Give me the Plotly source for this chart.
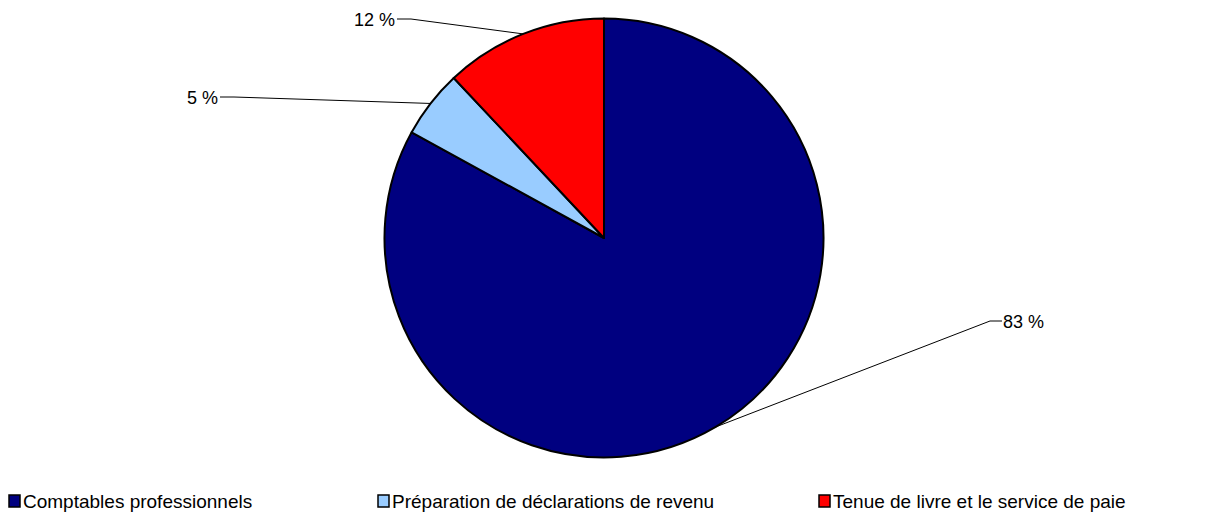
import math
import plotly.graph_objects as go

categories = ["Comptables professionnels",
              "Préparation de déclarations de revenu",
              "Tenue de livre et le service de paie"]
values = [83, 5, 12]
colors = ["#000080", "#99CCFF", "#FF0000"]

W, H = 1209, 514
cx, cy, r = 604, 238, 219.5

# where each outside label sits (pixels): elbow point of leader line, label side
label_pos = [(990, 321, "left"), (234, 97, "right"), (411, 19, "right")]
legend_x = [9, 378, 819]
legend_y = 501


def px(x):
    return x / W


def py(y):
    return 1 - y / H


fig = go.Figure(go.Pie(
    labels=categories, values=values, sort=False, direction="clockwise",
    rotation=0, textinfo="none", showlegend=False,
    marker=dict(colors=colors, line=dict(color="black", width=2)),
    domain=dict(x=[px(cx - r), px(cx + r)], y=[py(cy + r), py(cy - r)]),
))

shapes = []
annotations = []
total = sum(values)
cum = 0
for v, (ex, ey, side) in zip(values, label_pos):
    mid = (cum + v / 2) / total * 2 * math.pi
    cum += v
    sx = cx + r * math.sin(mid)
    sy = cy - r * math.cos(mid)
    hx = ex + 12 if side == "left" else ex - 14
    shapes.append(dict(type="line", xref="paper", yref="paper",
                       x0=px(sx), y0=py(sy), x1=px(ex), y1=py(ey),
                       line=dict(color="black", width=1)))
    shapes.append(dict(type="line", xref="paper", yref="paper",
                       x0=px(ex), y0=py(ey), x1=px(hx), y1=py(ey),
                       line=dict(color="black", width=1)))
    annotations.append(dict(x=px(hx + (0 if side == "left" else -1)), y=py(ey + 1),
                            xref="paper", yref="paper", showarrow=False,
                            text=f"{v} %", xanchor="left" if side == "left" else "right",
                            yanchor="middle", borderpad=0,
                            font=dict(size=18, color="black")))

for name, col, lx in zip(categories, colors, legend_x):
    shapes.append(dict(type="rect", xref="paper", yref="paper",
                       x0=px(lx), x1=px(lx + 11), y0=py(legend_y + 6), y1=py(legend_y - 6),
                       fillcolor=col, line=dict(color="black", width=1.5)))
    annotations.append(dict(x=px(lx + 13), y=py(legend_y), xref="paper", yref="paper",
                            showarrow=False, text=name, xanchor="left", yanchor="middle",
                            borderpad=0, font=dict(size=19, color="black")))

fig.update_layout(
    width=W, height=H,
    margin=dict(l=0, r=0, t=0, b=0),
    paper_bgcolor="white", plot_bgcolor="white",
    font=dict(family="Liberation Sans, Arial, sans-serif", size=18, color="black"),
    shapes=shapes, annotations=annotations,
)

fig.write_html("out.html", config={"displayModeBar": False},
               post_script="document.body.style.margin='0';")
